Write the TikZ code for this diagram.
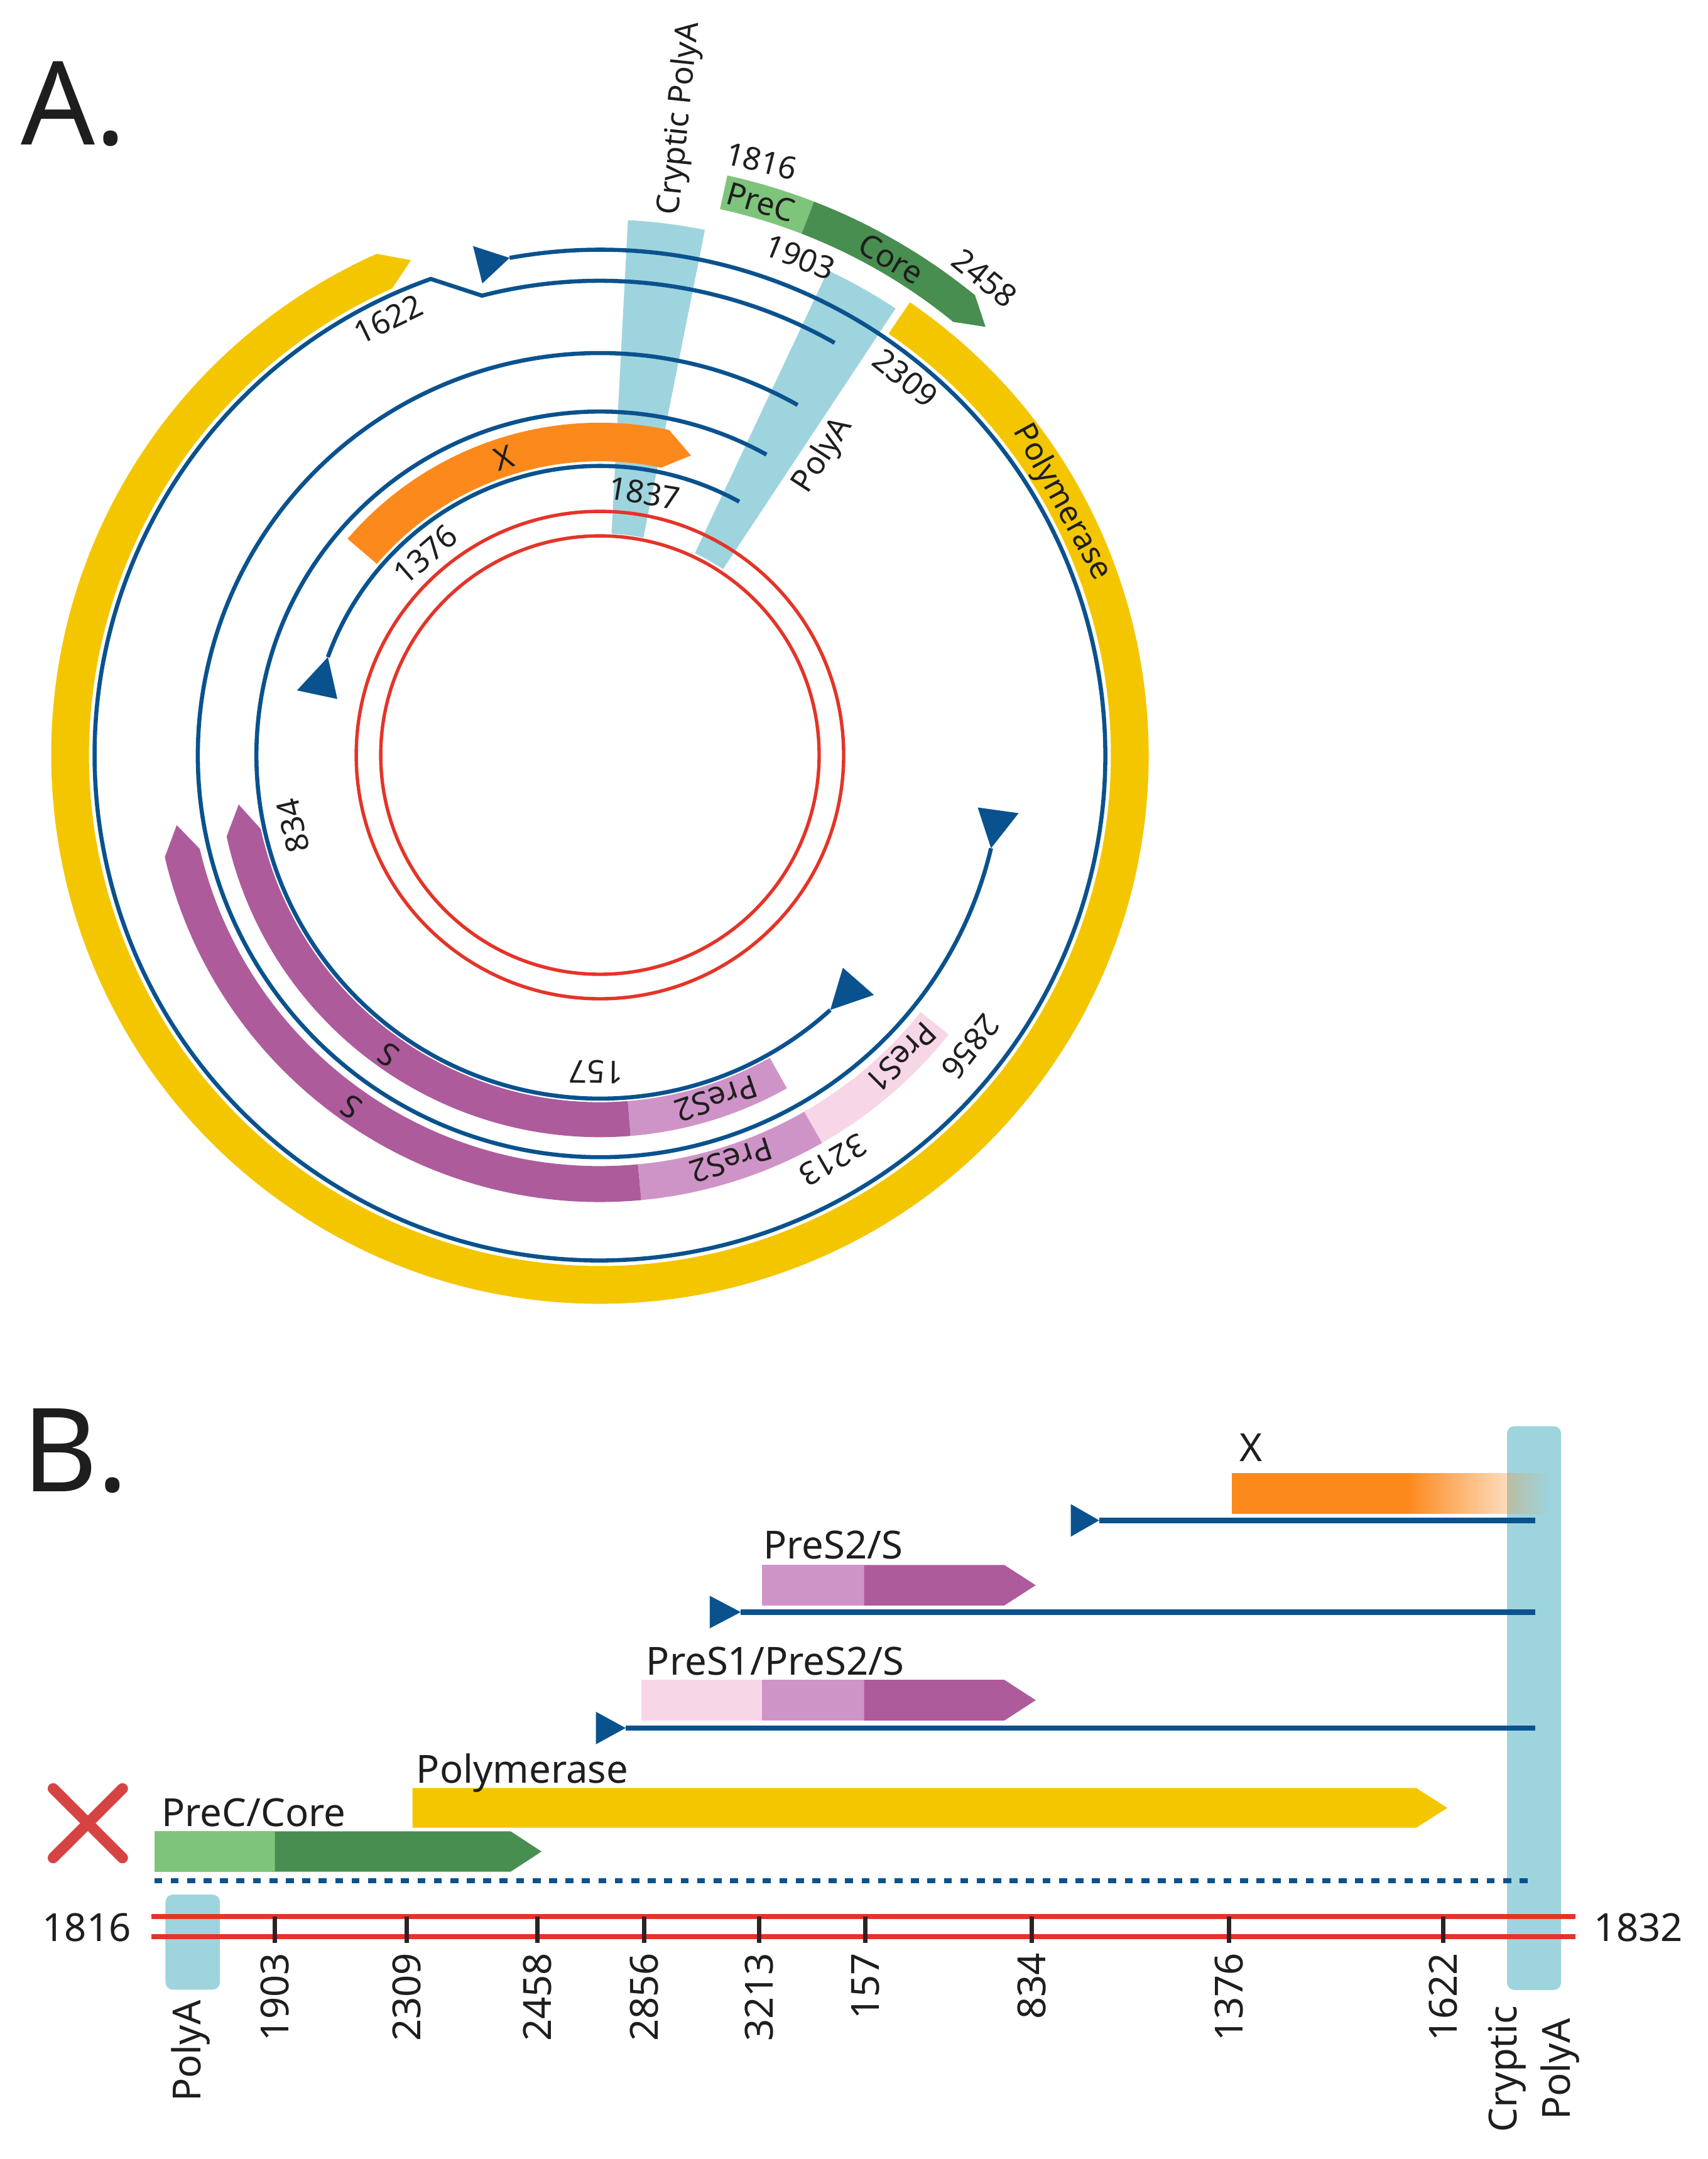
\documentclass[tikz,border=0pt]{standalone}
\usepackage{fontspec}
\setmainfont{Noto Sans}
\usetikzlibrary{fadings}
\definecolor{hbvblue}{RGB}{10,82,142}
\definecolor{hbvred}{RGB}{228,52,40}
\definecolor{hbvyellow}{RGB}{244,198,0}
\definecolor{hbvcyan}{RGB}{158,212,222}
\definecolor{lgreen}{RGB}{126,196,122}
\definecolor{dgreen}{RGB}{72,142,80}
\definecolor{xorange}{RGB}{252,137,28}
\definecolor{sdark}{RGB}{174,91,156}
\definecolor{smid}{RGB}{207,148,199}
\definecolor{slight}{RGB}{247,214,232}
\definecolor{crossred}{RGB}{214,67,67}
\definecolor{txt}{RGB}{30,30,30}
\tikzfading[name=xfadeout, left color=transparent!0, right color=transparent!100]
\newcommand{\annseg}[5]{\fill[#1] (#2:#5) arc[start angle=#2, end angle=#3, radius=#5] -- (#3:#4) arc[start angle=#3, end angle=#2, radius=#4] -- cycle;}
\newcommand{\annarrow}[6]{\fill[#1] (#2:#6) arc[start angle=#2, end angle=#3, radius=#6] -- (#4:{(#5+#6)/2}) -- (#3:#5) arc[start angle=#3, end angle=#2, radius=#5] -- cycle;}
\newcommand{\startmark}[4]{\fill[hbvblue] (#1:{#3+#4}) -- (#1:{#3-#4}) -- (#2:#3) -- cycle;}
\tikzset{
  bl/.style={draw=hbvblue, line width=1.7pt},
  blB/.style={draw=hbvblue, line width=2.2pt},
  lblA/.style={text=txt, inner sep=0pt, font=\fontsize{13}{15}\selectfont},
  lblB/.style={text=txt, inner sep=0pt, font=\fontsize{16}{19}\selectfont},
  bigl/.style={text=txt, inner sep=0pt, font=\fontsize{48}{50}\selectfont},
  tickm/.style={draw=black!85, line width=1.8pt},
  redl/.style={draw=hbvred, line width=2.1pt},
}
\begin{document}
\begin{tikzpicture}[x=0.02cm,y=0.02cm]
\useasboundingbox (0,0) rectangle (1240,1568);
\fill[white] (0,0) rectangle (1240,1568);

% ---------------- Part A ----------------
\node[bigl, anchor=base west] (labA) at (15,1463) {A.};
\begin{scope}[shift={(435.7,1019.6)}]
  % polyA wedges
  \annseg{hbvcyan}{87}{78.7}{161}{389}
  \annseg{hbvcyan}{64.8}{56.5}{162}{389}
  % genome (red circles)
  \draw[hbvred, line width=1.4pt] (0,0) circle[radius=177];
  \draw[hbvred, line width=1.4pt] (0,0) circle[radius=159.2];
  % polymerase
  \annarrow{hbvyellow}{55.6}{-246}{-249.1}{371}{398.5}
  % PreC / Core
  \annseg{lgreen}{77.6}{68.85}{406}{431}
  \annarrow{dgreen}{68.85}{50.8}{48}{406}{431}
  % X
  \annarrow{xorange}{139.4}{78}{73.1}{213.4}{241.4}
  % PreS2/S (inner)
  \annseg{smid}{-60.7}{-85.4}{252.1}{277.5}
  \annarrow{sdark}{-85.4}{-167.7}{-172.2}{252.1}{277.5}
  % PreS1/PreS2/S (outer)
  \annseg{slight}{-38.7}{-60.2}{298.5}{324.6}
  \annseg{smid}{-60.2}{-84.7}{298.5}{324.6}
  \annarrow{sdark}{-84.7}{-166.8}{-170.6}{298.5}{324.6}
  % transcripts
  \draw[bl] (100.3:367) arc[start angle=100.3, end angle=-250.44, radius=367] -- (104.4:344.5) arc[start angle=104.4, end angle=60.35, radius=344.5];
  \draw[bl] (-13.4:292) arc[start angle=-13.4, end angle=-299.45, radius=292];
  \draw[bl] (-47.9:249.5) arc[start angle=-47.9, end angle=-299, radius=249.5];
  \draw[bl] (160.2:210) arc[start angle=160.2, end angle=61.2, radius=210];
  \startmark{104}{100.3}{367}{14}
  \startmark{-7.9}{-13.4}{292}{15}
  \startmark{-41.2}{-47.9}{249.5}{15}
  \startmark{167.95}{160.2}{210}{15}
  % labels
  \node[lblA, rotate=84] (a1) at (82.8:466) {Cryptic PolyA};
  \node[lblA, rotate=57] (a2) at (53.3:271.3) {PolyA};
  \node[lblA, rotate=-14] (a3) at (74.8:447) {1816};
  \node[lblA, rotate=-16] (a4) at (73.8:418.3) {PreC};
  \node[lblA, rotate=-30.4] (a5) at (59.6:417.9) {Core};
  \node[lblA, rotate=-21.9] (a6) at (68.1:389.6) {1903};
  \node[lblA, rotate=-39] (a7) at (51.1:445) {2458};
  \node[lblA, rotate=-39] (a8) at (51:352.6) {2309};
  \node[lblA, rotate=-61.3] (a9) at (28.7:382.2) {Polymerase};
  \node[lblA, rotate=25.9] (a10) at (115.9:352) {1622};
  \node[lblA, rotate=17.9] (a11) at (107.9:226.9) {X};
  \node[lblA, rotate=-9.6] (a12) at (80.4:193) {1837};
  \node[lblA, rotate=41] (a13) at (131:193) {1376};
  \node[lblA, rotate=103] (a14) at (193:229) {834};
  \node[lblA, rotate=144.8] (a15) at (-125.2:266.4) {S};
  \node[lblA, rotate=144.7] (a16) at (-125.3:313) {S};
  \node[lblA, rotate=-180.7] (a17) at (-90.7:230) {157};
  \node[lblA, rotate=-161.3] (a18) at (-71.3:263.4) {PreS2};
  \node[lblA, rotate=-162] (a19) at (-72.05:309.3) {PreS2};
  \node[lblA, rotate=-135.1] (a20) at (-45.1:310) {PreS1};
  \node[lblA, rotate=-128.2] (a21) at (-38.2:342.5) {2856};
  \node[lblA, rotate=-150.1] (a22) at (-60.1:339.4) {3213};
\end{scope}

% ---------------- Part B ----------------
\node[bigl, anchor=base west] (labB) at (16,484.7) {B.};
% polyA bars
\fill[hbvcyan, rounded corners=3] (1094.5,122.8) rectangle (1133.7,532.2);
\fill[hbvcyan, rounded corners=3] (120.2,123) rectangle (159.7,192);
% X
\fill[xorange] (894.4,468.5) rectangle (1022,498.4);
\fill[xorange, path fading=xfadeout] (1021.5,468.5) rectangle (1125.4,498.4);
\node[lblB, anchor=base west] (bx) at (900,506.4) {X};
\coordinate (x1) at (798.3,463.8);
\coordinate (x2) at (1115,463.8);
\draw[blB] (x1) -- (x2);
\fill[hbvblue] (777.7,452) -- (777.7,475.6) -- (x1) -- cycle;
% PreS2/S
\fill[smid] (553.4,402) rectangle (627.6,431.4);
\fill[sdark] (627.6,402) -- (627.6,431.4) -- (729.4,431.4) -- (752.2,416.7) -- (729.4,402) -- cycle;
\node[lblB, anchor=base west] (bs2) at (554,436) {PreS2/S};
\coordinate (s1) at (538,397.2);
\coordinate (s2) at (1115,397.2);
\draw[blB] (s1) -- (s2);
\fill[hbvblue] (515.5,385.4) -- (515.5,409) -- (s1) -- cycle;
% PreS1/PreS2/S
\fill[slight] (465.8,318.4) rectangle (553.4,348);
\fill[smid] (553.4,318.4) rectangle (627.6,348);
\fill[sdark] (627.6,318.4) -- (627.6,348) -- (729.4,348) -- (752.2,333.2) -- (729.4,318.4) -- cycle;
\node[lblB, anchor=base west] (bs1) at (469,351.5) {PreS1/PreS2/S};
\coordinate (p1) at (454.4,313);
\coordinate (p2) at (1115,313);
\draw[blB] (p1) -- (p2);
\fill[hbvblue] (432.8,301.2) -- (432.8,324.8) -- (p1) -- cycle;
% Polymerase
\fill[hbvyellow] (299.5,240.6) -- (299.5,269.4) -- (1028.5,269.4) -- (1051.2,255) -- (1028.5,240.6) -- cycle;
\node[lblB, anchor=base west] (bpol) at (302,273) {Polymerase};
% PreC/Core
\fill[lgreen] (112,208.6) rectangle (199.7,238);
\fill[dgreen] (199.7,208.6) -- (199.7,238) -- (370.8,238) -- (393.3,223.3) -- (370.8,208.6) -- cycle;
\node[lblB, anchor=base west] (bpc) at (117,241.6) {PreC/Core};
% crossed pgRNA
\coordinate (d1) at (112,202);
\coordinate (d2) at (1115,202);
\draw[hbvblue, line width=2pt, dash pattern=on 3.3pt off 3.5pt] (d1) -- (d2);
\draw[crossred, line width=4.5pt, line cap=round] (38.6,269) -- (89,218.7);
\draw[crossred, line width=4.5pt, line cap=round] (38.6,218.7) -- (89,269);
% genome
\coordinate (g1) at (110,176.1);
\coordinate (g2) at (1144,176.1);
\coordinate (g3) at (110,161.7);
\coordinate (g4) at (1144,161.7);
\draw[redl] (g1) -- (g2);
\draw[redl] (g3) -- (g4);
\node[lblB] (b1816) at (63,168) {1816};
\node[lblB] (b1832) at (1190,168) {1832};
\foreach \px/\lab in {199.7/1903, 295.4/2309, 390.4/2458, 467.8/2856, 551.4/3213, 628.4/157, 749.2/834, 892.4/1376, 1048.3/1622}{
  \draw[tickm] (\px,176) -- (\px,157);
  \node[lblB, rotate=90, anchor=east] (t\lab) at (\px,150) {\lab};
}
\node[lblB, rotate=90, anchor=east] (bpa) at (138.6,115.5) {PolyA};
\node[lblB, rotate=90, align=center, font=\fontsize{16}{22}\selectfont] (bcpa) at (1114,65.2) {Cryptic\\PolyA};
\end{tikzpicture}
\end{document}
